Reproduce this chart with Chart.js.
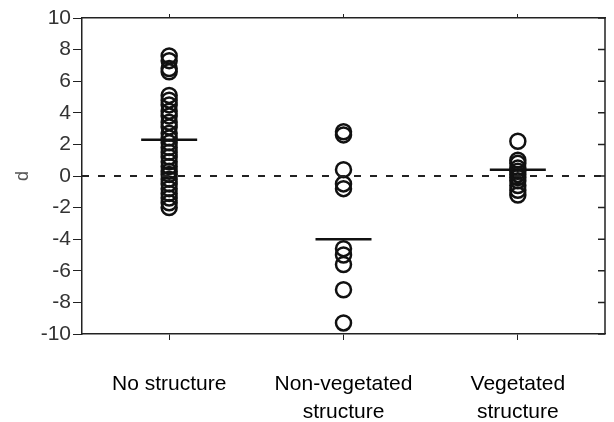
<!DOCTYPE html>
<html>
<head>
<meta charset="utf-8">
<script src="https://cdn.jsdelivr.net/npm/chart.js@4"></script>
<style>
  html, body { margin: 0; padding: 0; background: #fff; }
  #wrap { width: 614px; height: 422px; }
</style>
</head>
<body>
<div id="wrap"><canvas id="chartD"></canvas></div>
<script>
const categories = ['No structure', ['Non-vegetated', 'structure'], ['Vegetated', 'structure']];
const catKeys = ['No structure', 'Non-vegetated structure', 'Vegetated structure'];
const noStructure = [7.6, 7.3, 6.8, 6.6, 5.1, 4.8, 4.5, 4.1, 3.8, 3.4, 3.1, 2.7, 2.4, 2.1, 1.8, 1.5, 1.2, 0.9, 0.6, 0.3, 0.1, -0.2, -0.5, -0.8, -1.1, -1.4, -1.7, -2.0];
const nonVegetated = [2.8, 2.6, 0.4, -0.5, -0.8, -4.6, -5.0, -5.6, -7.2, -9.3];
const vegetated = [2.2, 1.0, 0.8, 0.5, 0.3, 0.1, -0.1, -0.3, -0.6, -0.9, -1.2];
const means = [2.3, -4.0, 0.4];
const yTicks = [-10, -8, -6, -4, -2, 0, 2, 4, 6, 8, 10];

const groups = [noStructure, nonVegetated, vegetated];
const pts = [];
groups.forEach((vals, i) => vals.forEach(v => pts.push({ x: catKeys[i], y: v })));

const frame = {
    id: 'frame',
    afterDatasetsDraw(chart) {
        const { ctx, chartArea: a, scales } = chart;
        const y = scales.y;
        ctx.save();
        // dashed zero line
        ctx.strokeStyle = '#222';
        ctx.lineWidth = 2;
        ctx.setLineDash([7, 9]);
        ctx.beginPath();
        ctx.moveTo(a.left, y.getPixelForValue(0));
        ctx.lineTo(a.right, y.getPixelForValue(0));
        ctx.stroke();
        ctx.setLineDash([]);
        // right axis with inward ticks
        ctx.lineWidth = 1.5;
        ctx.beginPath();
        ctx.moveTo(a.right, a.top);
        ctx.lineTo(a.right, a.bottom);
        yTicks.forEach(t => {
            const py = y.getPixelForValue(t);
            ctx.moveTo(a.right, py);
            ctx.lineTo(a.right - 7, py);
        });
        ctx.stroke();
        ctx.restore();
    }
};

new Chart(document.getElementById('chartD').getContext('2d'), {
    type: 'scatter',
    data: {
        labels: catKeys,
        datasets: [{
            data: pts,
            pointStyle: 'circle',
            pointRadius: 7.5,
            borderWidth: 2.5,
            borderColor: '#111',
            backgroundColor: 'rgba(255,255,255,0)'
        }, {
            data: means.map((m, i) => ({ x: catKeys[i], y: m })),
            pointStyle: 'line',
            pointRadius: 28,
            borderWidth: 2.5,
            borderColor: '#111'
        }]
    },
    options: {
        responsive: true,
        maintainAspectRatio: false,
        animation: false,
        layout: { autoPadding: false, padding: { top: 14, right: 9, left: 0, bottom: 0 } },
        plugins: { legend: { display: false }, tooltip: { enabled: false } },
        scales: {
            x: {
                type: 'category',
                labels: catKeys,
                offset: true,
                grid: { drawOnChartArea: false, tickLength: 6, color: '#222', offset: false },
                border: { color: '#222', width: 1.5 },
                ticks: {
                    color: '#000',
                    font: { family: 'Liberation Sans, Arial', size: 21, lineHeight: 1.3 },
                    padding: 31,
                    maxRotation: 0,
                    callback: (v, i) => categories[i]
                },
                afterFit: s => { s.height = 88; s.paddingLeft = 0; s.paddingRight = 0; }
            },
            xTop: {
                type: 'category',
                labels: catKeys,
                position: 'top',
                offset: true,
                grid: { drawOnChartArea: false, tickLength: 4, color: '#222', offset: false },
                border: { color: '#222', width: 1.5 },
                ticks: { display: false },
                afterFit: s => { s.paddingLeft = 0; s.paddingRight = 0; }
            },
            y: {
                min: -10,
                max: 10,
                afterBuildTicks: s => { s.ticks = yTicks.map(v => ({ value: v })); },
                grid: { drawOnChartArea: false, tickLength: 9, color: '#222' },
                border: { color: '#222', width: 1.5 },
                ticks: {
                    color: '#333',
                    font: { family: 'Liberation Sans, Arial', size: 21 },
                    padding: 2
                },
                title: {
                    display: true,
                    text: 'd',
                    color: '#555',
                    font: { family: 'Liberation Sans, Arial', size: 18 },
                    padding: { top: 12, bottom: 0 }
                },
                afterFit: s => { s.width = 82; s.paddingTop = 0; s.paddingBottom = 0; }
            }
        }
    },
    plugins: [frame]
});
</script>
</body>
</html>
